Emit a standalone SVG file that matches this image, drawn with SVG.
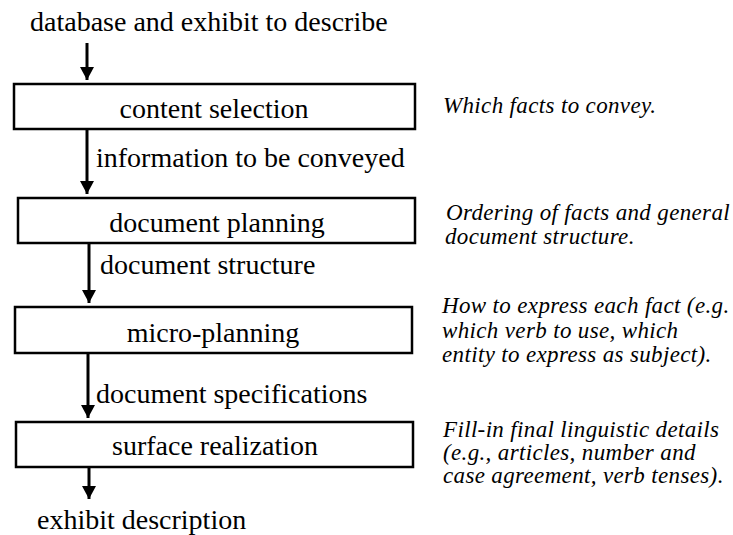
<svg xmlns="http://www.w3.org/2000/svg" width="733" height="535" viewBox="0 0 733 535">
<style>
.box{fill:#fff;stroke:#000;stroke-width:2.5}
.lbl{font-family:"Liberation Serif","Times New Roman",serif;font-size:28px;fill:#000}
.mid{text-anchor:middle}
.note{font-family:"Liberation Serif","Times New Roman",serif;font-size:23px;letter-spacing:0.35px;font-style:italic;fill:#000}
.conn{stroke:#000;stroke-width:3;fill:none;marker-end:url(#ah)}
</style>
<defs>
<marker id="ah" markerUnits="userSpaceOnUse" markerWidth="14" markerHeight="14" viewBox="0 0 14 14" refX="13" refY="7" orient="auto">
<path d="M0,0 L13,7 L0,14 z" fill="#000"/>
</marker>
</defs>
<rect width="733" height="535" fill="#fff"/>
<g id="connectors">
<line class="conn" x1="87" y1="43" x2="87" y2="80"/>
<line class="conn" x1="87" y1="129" x2="87" y2="194"/>
<line class="conn" x1="89" y1="243" x2="89" y2="303"/>
<line class="conn" x1="88" y1="353" x2="88" y2="418"/>
<line class="conn" x1="89" y1="467" x2="89" y2="499"/>
</g>
<g id="input"><text class="lbl" x="30" y="31">database and exhibit to describe</text></g>
<g id="content-selection">
<rect class="box" x="14" y="84" width="401" height="45"/>
<text class="lbl mid" x="214" y="118">content selection</text>
</g>
<g id="label-info"><text class="lbl" x="96" y="167">information to be conveyed</text></g>
<g id="document-planning">
<rect class="box" x="18" y="198" width="397" height="45"/>
<text class="lbl mid" x="217" y="232">document planning</text>
</g>
<g id="label-structure"><text class="lbl" x="100" y="274">document structure</text></g>
<g id="micro-planning">
<rect class="box" x="15" y="307" width="397" height="46"/>
<text class="lbl mid" x="213" y="342">micro-planning</text>
</g>
<g id="label-specs"><text class="lbl" x="96" y="403">document specifications</text></g>
<g id="surface-realization">
<rect class="box" x="16" y="422" width="397" height="45"/>
<text class="lbl mid" x="215" y="455">surface realization</text>
</g>
<g id="output"><text class="lbl" x="37" y="529">exhibit description</text></g>
<g id="notes">
<text class="note" x="443" y="113">Which facts to convey.</text>
<text class="note" x="446" y="220">Ordering of facts and general</text>
<text class="note" x="445" y="244">document structure.</text>
<text class="note" x="442" y="313">How to express each fact (e.g.</text>
<text class="note" x="442" y="338">which verb to use, which</text>
<text class="note" x="442" y="362">entity to express as subject).</text>
<text class="note" x="443" y="437">Fill-in final linguistic details</text>
<text class="note" x="443" y="460">(e.g., articles, number and</text>
<text class="note" x="443" y="483">case agreement, verb tenses).</text>
</g>
</svg>
